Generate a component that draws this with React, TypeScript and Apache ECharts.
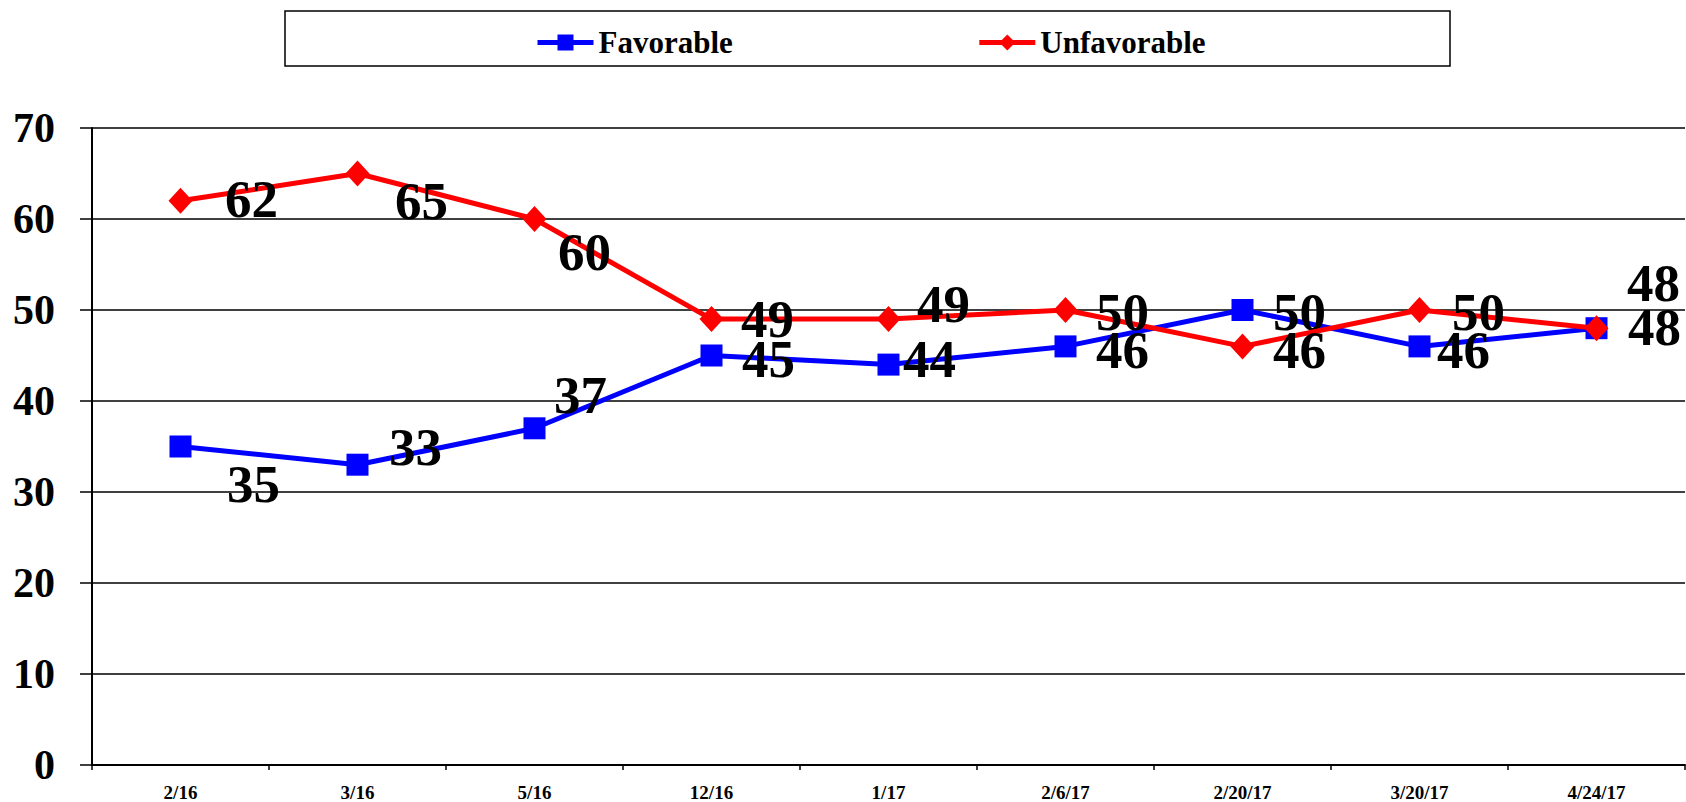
import React, { useEffect, useRef } from "react";
import * as echarts from "echarts";

const categories = ["2/16", "3/16", "5/16", "12/16", "1/17", "2/6/17", "2/20/17", "3/20/17", "4/24/17"];
const favorable = [35, 33, 37, 45, 44, 46, 50, 46, 48];
const unfavorable = [62, 65, 60, 49, 49, 50, 46, 50, 48];
const yTicks = [0, 10, 20, 30, 40, 50, 60, 70];

// label offsets (style): from marker center to label center, in px
const favLabelOffsets = [[73, 37], [58, -18], [46, -33], [57, 3], [41, -6], [57, 4], [57, 2], [44, 4], [58, -1]];
const unfavLabelOffsets = [[71, -2], [64, 27], [50, 33], [56, 0], [55, -15], [57, 2], [57, 4], [59, 2], [57, -45]];

const FONT = "Liberation Serif";

export default function App() {
  const ref = useRef<HTMLDivElement>(null);
  useEffect(() => {
    document.body.style.margin = "0";
    const chart = echarts.init(ref.current!, null, { renderer: "svg" });
    const mkData = (vals: number[], offs: number[][]) =>
      vals.map((v, i) => ({
        value: v,
        label: { offset: offs[i] },
      }));
    const labelBase = {
      show: true,
      position: "inside",
      color: "#000",
      fontFamily: FONT,
      fontWeight: "bold",
      fontSize: 53,
      align: "center",
      verticalAlign: "middle",
    };
    chart.setOption({
      animation: false,
      backgroundColor: "#fff",
      graphic: [
        {
          type: "rect",
          shape: { x: 285, y: 11, width: 1165, height: 55 },
          style: { fill: "none", stroke: "#000", lineWidth: 1.5 },
          z: -1,
        },
      ],
      legend: {
        left: 530,
        top: 22,
        itemWidth: 56,
        itemHeight: 20,
        itemGap: 244,
        lineStyle: { width: 5 },
        textStyle: { fontFamily: FONT, fontWeight: "bold", fontSize: 31, color: "#000" },
        data: ["Favorable", "Unfavorable"],
      },
      grid: { left: 92, right: 1, top: 128, bottom: 37, containLabel: false },
      xAxis: {
        type: "category",
        data: categories,
        boundaryGap: true,
        axisLine: { show: true, lineStyle: { color: "#000", width: 2 } },
        axisTick: { show: true, alignWithLabel: false, length: 5, lineStyle: { color: "#000", width: 1.5 } },
        axisLabel: { fontFamily: FONT, fontWeight: "bold", fontSize: 19, color: "#000", margin: 18 },
        splitLine: { show: false },
      },
      yAxis: {
        type: "value",
        min: yTicks[0],
        max: yTicks[yTicks.length - 1],
        interval: 10,
        axisLine: { show: true, lineStyle: { color: "#000", width: 2 } },
        axisTick: { show: true, length: 12, lineStyle: { color: "#000", width: 1.5 } },
        axisLabel: { fontFamily: FONT, fontWeight: "bold", fontSize: 42, color: "#000", margin: 37 },
        splitLine: { show: true, lineStyle: { color: "#000", width: 1.5 } },
      },
      series: [
        {
          name: "Favorable",
          type: "line",
          data: mkData(favorable, favLabelOffsets),
          symbol: "rect",
          symbolSize: 22,
          itemStyle: { color: "#0000FF" },
          lineStyle: { color: "#0000FF", width: 5 },
          label: labelBase,
          z: 3,
        },
        {
          name: "Unfavorable",
          type: "line",
          data: mkData(unfavorable, unfavLabelOffsets),
          symbol: "diamond",
          symbolSize: [24, 26],
          itemStyle: { color: "#FF0000" },
          lineStyle: { color: "#FF0000", width: 5 },
          label: labelBase,
          z: 4,
        },
      ],
    });
    return () => chart.dispose();
  }, []);
  return (
    <div
      ref={ref}
      style={{ position: "absolute", left: 0, top: 0, width: 1686, height: 802 }}
    />
  );
}
